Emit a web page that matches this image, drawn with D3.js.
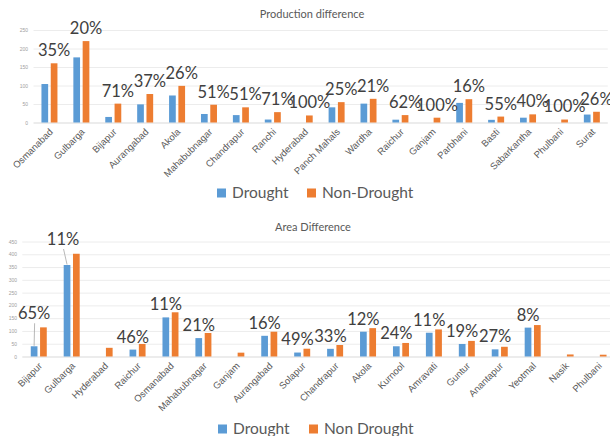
<!DOCTYPE html>
<html><head><meta charset="utf-8">
<script src="https://cdn.jsdelivr.net/npm/d3@7"></script>
<style>
html,body{margin:0;padding:0;background:#fff;}
svg{display:block;font-family:Lato,"Open Sans",sans-serif;}
</style></head>
<body><svg id="c" width="610" height="436"></svg>
<script>
// ---- Production difference ----
const prodCategories = ["Osmanabad","Gulbarga","Bijapur","Aurangabad","Akola","Mahabubnagar","Chandrapur","Ranchi","Hyderabad","Panch Mahals","Wardha","Raichur","Ganjam","Parbhani","Basti","Sabarkantha","Phulbani","Surat"];
const prodDrought    = [104,176,15,49,73,23,20,8,0,41,51,7.6,0,53,7.2,13,0,21.5];
const prodNonDrought = [160,220,51,77,99,48,41,28,19,55,64,20,13,63,16,22,8,29];
const prodLabels = ["35%","20%","71%","37%","26%","51%","51%","71%","100%","25%","21%","62%","100%","16%","55%","40%","100%","26%"];
const prodTicks = [0,50,100,150,200,250];

// ---- Area Difference ----
const areaCategories = ["Bijapur","Gulbarga","Hyderabad","Raichur","Osmanabad","Mahabubnagar","Ganjam","Aurangabad","Solapur","Chandrapur","Akola","Kurnool","Amravati","Guntur","Anantapur","Yeotmal","Nasik","Phulbani"];
const areaDrought    = [40,358,0,27,153,72,0,81,15.5,30,97,40,93,49,28,113,0,0];
const areaNonDrought = [114,402,34,49,173,92,15,97,30.5,45,111,53,106,61,38,123,8,7];
const areaLabels = ["65%","11%","","46%","11%","21%","","16%","49%","33%","12%","24%","11%","19%","27%","8%","",""];
const areaTicks = [0,50,100,150,200,250,300,350,400,450];

const BLUE = "#5B9BD5", ORANGE = "#ED7D31";
const svg = d3.select("#c");

function chart(cfg){
  const g = svg.append("g");
  const x = d3.scaleBand().domain(cfg.categories).range(cfg.xRange).padding(0);
  const inner = d3.scaleBand().domain([0,1]).range([-8,8]).paddingInner(0.28);
  const y = d3.scaleLinear().domain(cfg.yDomain).range(cfg.yRange);

  // gridlines + tick labels
  const ax = d3.axisLeft(y).tickValues(cfg.ticks).tickSize(-(cfg.gridRight - cfg.xRange[0])).tickPadding(0);
  const ga = g.append("g").attr("transform",`translate(${cfg.xRange[0]},0)`).call(ax);
  ga.select(".domain").remove();
  ga.selectAll(".tick line").attr("stroke",d=>d===0?"#d9d9d9":"#ececec").attr("stroke-width",1);
  ga.selectAll(".tick text").attr("x",cfg.tickX - cfg.xRange[0]).attr("fill","#a0a0a0").attr("font-size",5).attr("text-anchor","end");

  // bars
  const series = [cfg.drought, cfg.non];
  const colors = [BLUE, ORANGE];
  series.forEach((vals,si)=>{
    g.append("g").selectAll("rect").data(cfg.categories).join("rect")
      .attr("x",(d)=>x(d)+x.bandwidth()/2+inner(si))
      .attr("width",inner.bandwidth())
      .attr("y",(d,i)=>y(vals[i]))
      .attr("height",(d,i)=>y(0)-y(vals[i]))
      .attr("fill",colors[si]);
  });

  // category axis
  const bx = d3.axisBottom(x).tickSize(0).tickPadding(0);
  const gb = g.append("g").attr("transform",`translate(0,${y(0)})`).call(bx);
  gb.select(".domain").remove();
  gb.selectAll(".tick text")
    .attr("font-size",9.5).attr("fill","#595959")
    .attr("text-anchor","end").attr("dy",0).attr("y",0)
    .attr("transform","translate(4,10) rotate(-45)");

  // data labels
  const ls = cfg.labelSeries;
  const vals = series[ls];
  cfg.categories.forEach((c,i)=>{
    const lab = cfg.labels[i];
    if(!lab) return;
    const bx0 = x(c)+x.bandwidth()/2+inner(ls)+inner.bandwidth()/2;
    const top = y(vals[i]);
    const off = (cfg.offsets && cfg.offsets[c]) || [0,0];
    const lx = bx0 + off[0], ly = top - 13 + off[1];
    if(off[0]!==0 || off[1]!==0){
      g.append("line").attr("x1",lx+0.5).attr("y1",ly+10).attr("x2",bx0).attr("y2",top-0.5)
        .attr("stroke","#a6a6a6").attr("stroke-width",0.8);
    }
    g.append("text").attr("x",lx).attr("y",ly).attr("dy","0.36em")
      .attr("text-anchor","middle").attr("font-size",16.5).attr("fill","#404040").text(lab);
  });

  // title
  g.append("text").attr("x",cfg.titleX).attr("y",cfg.titleY).attr("dy","0.35em")
    .attr("text-anchor","middle").attr("font-size",11).attr("fill","#595959").text(cfg.title);

  // legend
  const lg = g.append("g");
  cfg.legend.forEach((l,i)=>{
    lg.append("rect").attr("x",l.x).attr("y",cfg.legendY-4.5).attr("width",9).attr("height",9).attr("fill",colors[i]);
    lg.append("text").attr("x",l.x+15).attr("y",cfg.legendY).attr("dy","0.35em")
      .attr("font-size",15.5).attr("fill","#595959").text(l.name);
  });
}

chart({
  categories: prodCategories, drought: prodDrought, non: prodNonDrought, labels: prodLabels,
  ticks: prodTicks, yDomain:[0,250], yRange:[122.5,30], xRange:[33.5,607.8], gridRight:607.8, tickX:28,
  labelSeries:1, title:"Production difference", titleX:312, titleY:14, legendY:193,
  legend:[{name:"Drought",x:217},{name:"Non-Drought",x:307}]
});

chart({
  categories: areaCategories, drought: areaDrought, non: areaNonDrought, labels: areaLabels,
  ticks: areaTicks, yDomain:[0,450], yRange:[356.5,241.5], xRange:[22.3,615], gridRight:615, tickX:17,
  labelSeries:0, title:"Area Difference", titleX:313, titleY:227, legendY:429,
  offsets:{"Bijapur":[0,-20],"Gulbarga":[-4,-13]},
  legend:[{name:"Drought",x:218},{name:"Non Drought",x:309}]
});
</script></body></html>
